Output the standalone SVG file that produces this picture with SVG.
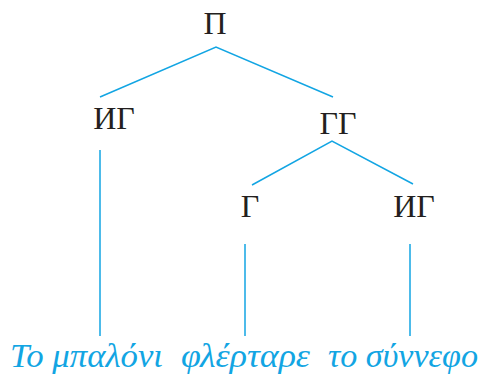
<svg xmlns="http://www.w3.org/2000/svg" width="483" height="376" viewBox="0 0 483 376">
<style>
.n{font-family:"Liberation Serif","DejaVu Serif",serif;font-size:32px;fill:#231f20;text-anchor:middle}
.w{font-family:"Liberation Serif","DejaVu Serif",serif;font-size:33px;font-style:italic;fill:#12a5e3}
.e{stroke:#12a5e3;stroke-width:1.5;fill:none}
</style>
<rect width="483" height="376" fill="#fff"/>
<g id="connectors">
<polyline class="e" points="100,97 216,47 333,97"/>
<polyline class="e" points="252,185 332,141 413,184"/>
<line class="e" x1="100" y1="150" x2="100" y2="336"/>
<line class="e" x1="245" y1="244" x2="245" y2="336"/>
<line class="e" x1="410" y1="244" x2="410" y2="336"/>
</g>
<g id="n-P"><text class="n" x="215" y="34">Π</text></g>
<g id="n-IG1"><text class="n" x="114" y="129">ИΓ</text></g>
<g id="n-GG"><text class="n" x="338" y="134">ΓΓ</text></g>
<g id="n-G"><text class="n" x="250" y="217">Γ</text></g>
<g id="n-IG2"><text class="n" x="414" y="217">ИΓ</text></g>
<g id="words">
<text class="w" x="10" y="367" textLength="153" lengthAdjust="spacingAndGlyphs">Το μπαλόνι</text>
<text class="w" x="181" y="367" textLength="129" lengthAdjust="spacingAndGlyphs">φλέρταρε</text>
<text class="w" x="328" y="367" textLength="150" lengthAdjust="spacingAndGlyphs">το σύννεφο</text>
</g>
</svg>
